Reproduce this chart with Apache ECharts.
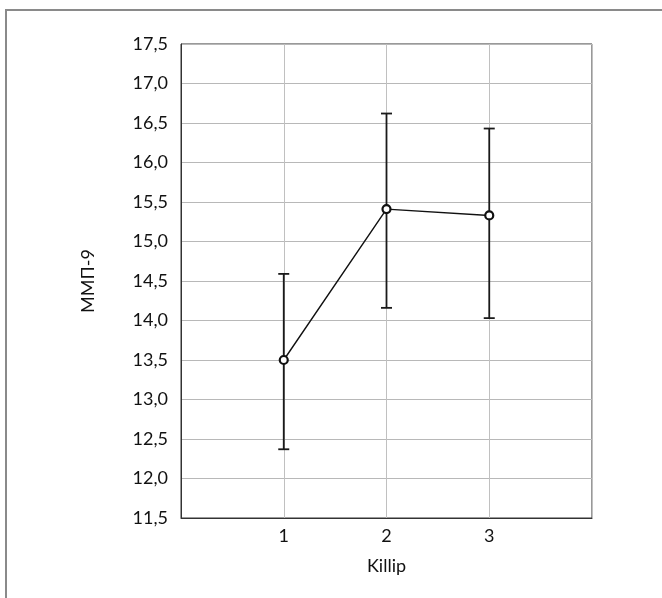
<!DOCTYPE html>
<html>
<head>
<meta charset="utf-8">
<script src="https://cdn.jsdelivr.net/npm/echarts@6/dist/echarts.min.js"></script>
<style>
  html, body { margin: 0; padding: 0; background: #fff; }
  #chart { width: 662px; height: 598px; }
</style>
</head>
<body>
<div id="chart"></div>
<script>
// Killip class and MMP-9 mean with error bounds
const killip = [1, 2, 3];
const means = [13.5, 15.41, 15.33];
const lower = [12.37, 14.16, 14.03];
const upper = [14.59, 16.62, 16.43];

const font = 'Lato, "Noto Sans", sans-serif';

const chart = echarts.init(document.getElementById('chart'), null, { renderer: 'canvas' });

const options = {
  animation: false,
  backgroundColor: '#fff',
  graphic: [{
    type: 'rect',
    shape: { x: 6, y: 10, width: 700, height: 700 },
    style: { fill: 'none', stroke: '#8a8a8a', lineWidth: 2 },
    silent: true
  }],
  grid: {
    left: 181,
    top: 44,
    right: 70,
    bottom: 80,
    show: true,
    borderColor: '#333',
    borderWidth: 1
  },
  xAxis: {
    type: 'value',
    min: 0,
    max: 4,
    interval: 1,
    name: 'Killip',
    nameLocation: 'middle',
    nameGap: 39,
    nameTextStyle: { fontFamily: font, fontSize: 18, color: '#111' },
    axisLine: { show: true, lineStyle: { color: '#333', width: 1 } },
    axisTick: { show: false },
    splitLine: { show: true, lineStyle: { color: '#c0c0c0', width: 1 } },
    axisLabel: {
      fontFamily: font,
      fontSize: 18,
      color: '#111',
      margin: 9,
      formatter: function (v) {
        return killip.indexOf(v) >= 0 ? String(v) : '';
      }
    }
  },
  yAxis: {
    type: 'value',
    min: 11.5,
    max: 17.5,
    interval: 0.5,
    name: 'ММП-9',
    nameLocation: 'middle',
    nameGap: 84,
    nameTextStyle: { fontFamily: font, fontSize: 18, color: '#111' },
    axisLine: { show: true, lineStyle: { color: '#333', width: 1 } },
    axisTick: { show: false },
    splitLine: { show: true, lineStyle: { color: '#b8b8b8', width: 1 } },
    axisLabel: {
      fontFamily: font,
      fontSize: 18,
      color: '#111',
      margin: 13,
      formatter: function (v) {
        return v.toFixed(1).replace('.', ',');
      }
    }
  },
  series: [{
    type: 'custom',
    name: 'error',
    data: killip.map((k, i) => [k, lower[i], upper[i]]),
    renderItem: function (params, api) {
      const x = api.value(0);
      const lo = api.coord([x, api.value(1)]);
      const hi = api.coord([x, api.value(2)]);
      const cap = 5.5;
      const st = { stroke: '#1a1a1a', lineWidth: 1.8 };
      return {
        type: 'group',
        children: [
          { type: 'line', shape: { x1: lo[0], y1: lo[1], x2: hi[0], y2: hi[1] }, style: st },
          { type: 'line', shape: { x1: hi[0] - cap, y1: hi[1], x2: hi[0] + cap, y2: hi[1] }, style: st },
          { type: 'line', shape: { x1: lo[0] - cap, y1: lo[1], x2: lo[0] + cap, y2: lo[1] }, style: st }
        ]
      };
    },
    z: 2
  }, {
    type: 'line',
    name: 'mean',
    data: killip.map((k, i) => [k, means[i]]),
    symbol: 'circle',
    symbolSize: 8,
    showSymbol: true,
    lineStyle: { color: '#111', width: 1.4 },
    itemStyle: { color: '#fff', borderColor: '#111', borderWidth: 2.2 },
    z: 3
  }]
};

chart.setOption(options);
</script>
</body>
</html>
